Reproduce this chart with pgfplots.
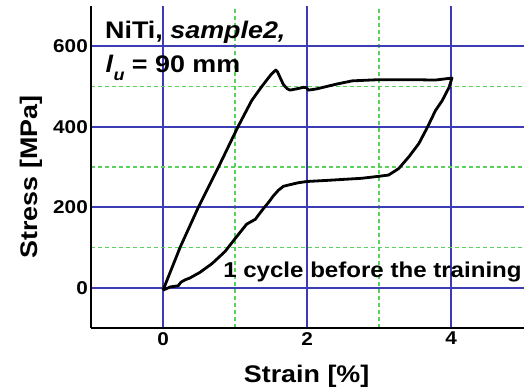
\documentclass[border=0pt]{standalone}
\usepackage{fontspec}
\setmainfont{Liberation Sans}[FakeStretch=1.12]
\usepackage{pgfplots}
\pgfplotsset{compat=1.18}
\definecolor{gridblue}{RGB}{60,60,180}
\definecolor{gridgreen}{RGB}{90,210,90}
\begin{document}
\begin{tikzpicture}
\begin{axis}[
  at={(0,0)}, anchor=south west,
  width=433bp, height=322bp, scale only axis,
  xmin=-1, xmax=5.01, ymin=-100, ymax=700,
  axis lines=left, axis line style={-, black, line width=1.8bp},
  xtick={0,2,4}, ytick={0,200,400,600},
  minor xtick={1,3}, minor ytick={100,300,500},
  major tick length=0pt, minor tick length=0pt,
  grid=both,
  major grid style={gridblue, line width=1.6bp},
  minor grid style={gridgreen, line width=1.6bp, dash pattern=on 4bp off 3bp},
  /pgf/number format/assume math mode=true,
  tick label style={font=\fontsize{18.5bp}{20bp}\selectfont\bfseries, inner sep=0pt},
  yticklabel style={anchor=east, xshift=-3bp},
  xticklabel style={anchor=north, yshift=-4bp},
  xlabel={Strain [\%]}, ylabel={Stress [MPa]},
  label style={font=\fontsize{24bp}{26bp}\selectfont\bfseries, inner sep=0pt},
  xlabel style={at={(rel axis cs:0.498,-0.168)}, anchor=base},
  ylabel style={at={(rel axis cs:-0.1247,0.469)}, anchor=base, rotate=0},
  clip=false,
]
\addplot[black, line width=2.8bp, line join=round] coordinates {
(0,-6) (0.236,100) (0.49,200) (0.77,300) (1.04,400) (1.23,465) (1.37,500) (1.50,530) (1.565,541)
(1.59,536) (1.625,522) (1.67,505) (1.72,495) (1.76,491) (1.85,494) (1.95,498) (1.99,497) (2.02,491)
(2.13,494) (2.41,506) (2.625,514) (3.0,517) (3.46,517) (3.78,516) (4.01,521)
(3.97,498) (3.875,465) (3.78,440) (3.67,399) (3.55,358) (3.41,325) (3.27,296)
(3.13,280) (3.0,277) (2.76,272) (2.30,267) (2.0,264) (1.88,261) (1.76,256) (1.67,252)
(1.60,242) (1.53,228) (1.46,211) (1.39,196) (1.28,170) (1.16,158) (1.0,122) (0.86,90)
(0.68,60) (0.51,38) (0.37,24) (0.31,20) (0.25,14) (0.21,5) (0.10,2) (0,-6)
};
\node[anchor=base west, inner sep=0pt, font=\fontsize{24bp}{26bp}\selectfont\bfseries]
  at (axis cs:-0.806,620) {NiTi, \textit{sample2,}};
\node[anchor=base west, inner sep=0pt, font=\fontsize{24bp}{26bp}\selectfont\bfseries]
  at (axis cs:-0.80,535) {\textit{l}\raisebox{-0.33em}{\fontsize{16bp}{18bp}\selectfont\textit{u}} = 90 mm};
\node[anchor=base west, inner sep=0pt, font=\fontsize{21.5bp}{24bp}\selectfont\bfseries]
  at (axis cs:0.833,25.6) {1 cycle before the training};
\end{axis}
\pgfresetboundingbox
\useasboundingbox (-91bp,-64bp) rectangle (433bp,328bp);
\end{tikzpicture}
\end{document}
